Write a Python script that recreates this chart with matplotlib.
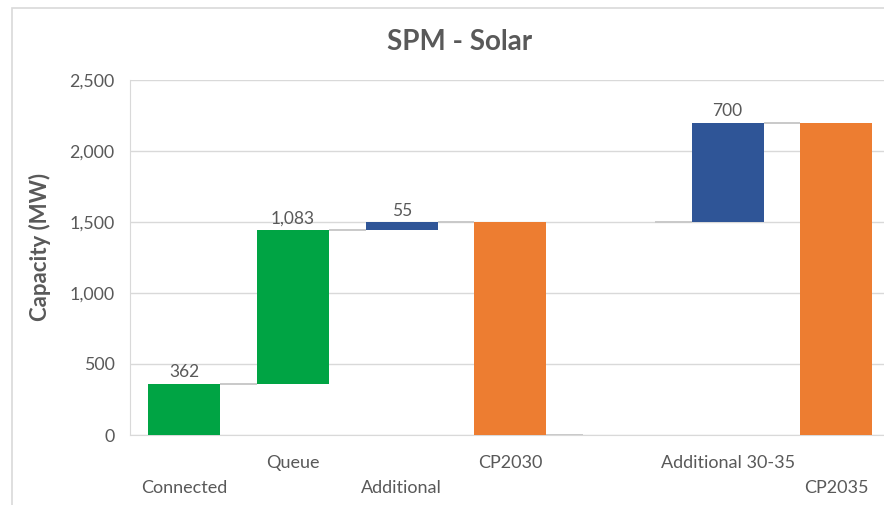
import matplotlib
matplotlib.use("Agg")
import matplotlib.pyplot as plt
from matplotlib.patches import Rectangle

categories = ["Connected", "Queue", "Additional", "CP2030", "", "Additional 30-35", "CP2035"]
changes = [362, 1083, 55, None, None, 700, None]   # None -> total / blank
kinds = ["up", "up", "up", "total", "blank", "up", "total"]
label_text = ["362", "1,083", "55", "", "", "700", ""]
yticks = [0, 500, 1000, 1500, 2000, 2500]
ytick_labels = ["0", "500", "1,000", "1,500", "2,000", "2,500"]

c_green = "#00A444"
c_blue = "#2F5597"
c_orange = "#ED7D31"
txt = "#595959"
font = ["Lato", "DejaVu Sans"]

plt.rcParams['font.family'] = font

fig = plt.figure(figsize=(8.84, 5.05), dpi=100)
fig.patch.set_facecolor("white")
fig.add_artist(Rectangle((12/884, -0.1), 2.0, 1 - 8/505 + 0.1, transform=fig.transFigure,
                         fill=False, edgecolor="#D9D9D9", lw=1.2))
ax = fig.add_axes([130/884, 1 - 435/505, 754/884, (435 - 80)/505])

width = 0.66
running = 0
bottoms, heights, colors = [], [], []
for i, (k, ch) in enumerate(zip(kinds, changes)):
    if k == "up":
        bottoms.append(running)
        heights.append(ch)
        running += ch
        colors.append(c_blue if i in (2, 5) else c_green)
    elif k == "total":
        bottoms.append(0)
        heights.append(running)
        colors.append(c_orange)
    else:
        bottoms.append(0)
        heights.append(0)
        colors.append("none")

x = list(range(len(categories)))
for i in x:
    if kinds[i] != "blank":
        ax.bar(i, heights[i], width, bottom=bottoms[i], color=colors[i], zorder=3)

# connector lines
conn_levels = [362, 1445, 1500, 0, 1500, 2200]
for i, lvl in enumerate(conn_levels):
    ax.plot([i + width / 2, i + 1 - width / 2], [lvl, lvl], color="#C9C9C9", lw=1.4, zorder=2,
            solid_capstyle="butt")

# data labels
for i, t in enumerate(label_text):
    if t:
        ax.text(i, bottoms[i] + heights[i] + 22, t, ha="center", va="bottom",
                fontsize=12.5, color=txt)

ax.set_xlim(-0.5, -0.5 + 754 / 108.67)
ax.set_ylim(0, 2500)
ax.set_yticks(yticks)
ax.set_yticklabels(ytick_labels, fontsize=12.8, color=txt)
ax.tick_params(axis="y", length=0, pad=11)
ax.yaxis.grid(True, color="#D9D9D9", lw=1, zorder=0)
ax.set_axisbelow(True)
ax.set_xticks([])
for s in ["top", "right"]:
    ax.spines[s].set_visible(False)
ax.spines["left"].set_color("#D9D9D9")
ax.spines["bottom"].set_color("#D9D9D9")

# staggered category labels
for i, c in enumerate(categories):
    if not c:
        continue
    y = -0.078 if i % 2 == 1 else -0.148
    ax.text(i, y, c, transform=ax.get_xaxis_transform(), ha="center", va="center",
            fontsize=13, color=txt)

fig.text(40/884, 1 - 247/505, "Capacity (MW)", rotation=90, ha="center", va="center",
         fontsize=16, fontweight="bold", color=txt)
fig.text(460/884, 1 - 42/505, "SPM - Solar", ha="center", va="center",
         fontsize=20, fontweight="bold", color=txt)

fig.savefig("out.png", dpi=100, facecolor="white")
